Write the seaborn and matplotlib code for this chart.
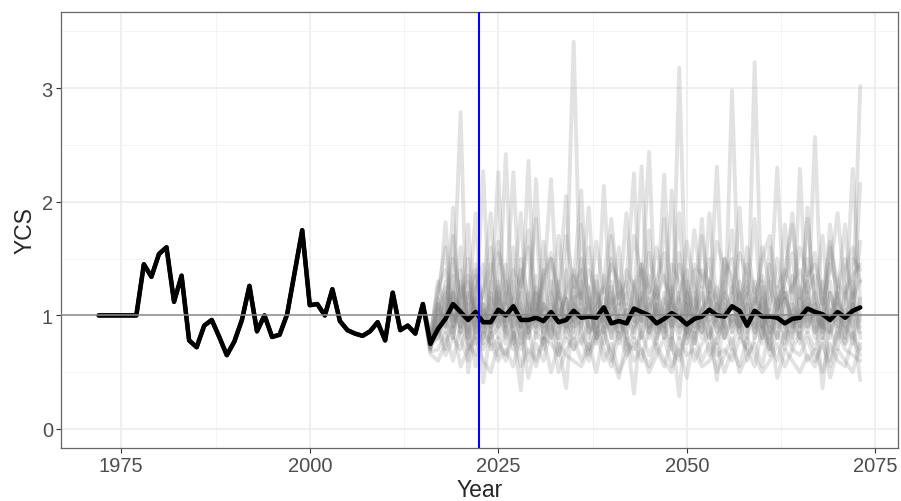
import numpy as np
import pandas as pd
import matplotlib
matplotlib.use("Agg")
import matplotlib.pyplot as plt
import seaborn as sns

# historical year class strength, shared by every run (1972-2015)
hist_years = list(range(1972, 2016))
hist_ycs = [1.0, 1.0, 1.0, 1.0, 1.0, 1.0, 1.45, 1.34, 1.54, 1.60,
            1.12, 1.35, 0.78, 0.72, 0.91, 0.96, 0.81, 0.65, 0.77, 0.96,
            1.26, 0.86, 1.0, 0.81, 0.83, 1.01, 1.38, 1.75, 1.09, 1.10,
            1.0, 1.23, 0.95, 0.87, 0.84, 0.82, 0.86, 0.94, 0.78, 1.2,
            0.87, 0.91, 0.84, 1.10]

# projection years
proj_years = list(range(2016, 2074))

median_proj = [0.75, 0.88, 0.97, 1.10, 1.03, 0.96, 1.03, 0.94, 0.94, 1.05,
               1.00, 1.08, 0.96, 0.96, 0.98, 0.95, 1.03, 0.94, 0.96, 1.04,
               0.98, 0.99, 0.98, 1.07, 0.93, 0.95, 0.93, 1.06, 1.03, 1.00,
               0.93, 0.97, 1.02, 0.98, 0.92, 0.97, 0.99, 1.05, 1.00, 0.99,
               1.08, 1.04, 0.91, 1.04, 0.99, 0.99, 0.98, 0.93, 0.97, 0.98,
               1.06, 1.03, 1.01, 0.96, 1.03, 0.98, 1.04, 1.07]

sim_01 = [0.74, 0.95, 1.2, 1.05, 2.79, 0.5, 0.9, 1.1, 0.85, 1.3,
          0.9, 1.15, 0.75, 1.0, 1.35, 0.8, 1.1, 0.95, 1.2, 3.41,
          0.85, 0.7, 1.1, 1.25, 0.9, 1.0, 0.8, 1.3, 0.95, 1.1,
          0.75, 1.2, 0.9, 1.05, 0.85, 1.4, 0.95, 0.8, 1.1, 1.0,
          1.2, 0.85, 0.7, 3.23, 0.9, 1.05, 0.8, 1.15, 1.0, 0.9,
          1.3, 0.85, 1.0, 0.95, 1.2, 0.8, 1.1, 0.9]
sim_02 = [0.78, 0.85, 1.3, 0.95, 1.1, 0.8, 1.25, 0.41, 0.9, 1.0,
          2.42, 0.8, 1.05, 0.9, 1.2, 0.7, 0.95, 1.3, 0.85, 1.1,
          1.0, 1.25, 0.8, 0.9, 1.15, 0.75, 1.05, 0.95, 1.4, 0.85,
          1.1, 0.9, 0.7, 3.18, 0.8, 1.0, 1.2, 0.9, 0.75, 1.05,
          0.95, 1.3, 0.85, 1.0, 1.1, 0.7, 1.25, 0.9, 0.8, 1.15,
          0.95, 2.57, 0.8, 1.05, 0.9, 1.2, 0.75, 1.0]
sim_03 = [0.7, 1.0, 0.9, 1.35, 0.85, 1.1, 0.95, 2.27, 0.8, 0.9,
          1.1, 0.85, 0.34, 1.2, 0.95, 1.05, 0.8, 1.15, 0.9, 1.25,
          0.75, 0.95, 1.3, 0.85, 1.0, 1.1, 0.7, 0.9, 1.2, 2.44,
          0.8, 1.05, 0.9, 1.15, 0.75, 1.0, 0.85, 1.3, 0.95, 0.8,
          2.98, 0.9, 1.1, 0.8, 1.2, 0.95, 1.0, 0.75, 1.35, 0.9,
          1.05, 0.8, 1.15, 0.9, 0.7, 1.25, 1.0, 0.85]
sim_04 = [0.76, 0.9, 1.1, 0.8, 1.4, 0.95, 1.05, 0.75, 1.2, 1.0,
          0.85, 1.3, 0.9, 2.36, 0.8, 1.1, 1.0, 0.75, 0.36, 1.15,
          1.2, 0.9, 0.85, 1.05, 1.3, 0.8, 0.95, 1.1, 2.31, 0.9,
          0.95, 0.8, 1.25, 0.9, 1.1, 0.75, 1.05, 1.2, 0.85, 1.0,
          1.1, 0.95, 0.8, 1.3, 0.9, 0.7, 1.05, 1.15, 0.85, 1.25,
          0.9, 1.1, 0.8, 1.2, 0.95, 0.75, 1.05, 3.02]
sim_05 = [0.72, 1.05, 0.85, 1.15, 0.9, 1.3, 0.8, 1.0, 1.1, 2.26,
          0.75, 0.95, 1.2, 0.85, 1.0, 1.4, 0.9, 0.8, 1.15, 0.95,
          1.05, 0.8, 1.1, 0.9, 1.25, 0.95, 0.85, 0.31, 1.0, 1.2,
          0.9, 1.15, 1.0, 0.8, 1.3, 0.95, 0.85, 1.1, 2.31, 0.8,
          1.0, 0.85, 1.2, 0.95, 0.75, 1.1, 2.3, 0.9, 1.05, 0.8,
          1.15, 0.95, 1.3, 0.85, 1.0, 0.9, 1.2, 0.8]
sim_06 = [0.8, 0.9, 1.0, 1.2, 1.05, 0.85, 1.4, 0.9, 1.15, 0.8,
          1.0, 1.1, 0.9, 0.8, 2.2, 0.95, 1.2, 0.85, 1.05, 0.9,
          1.3, 0.85, 1.0, 0.75, 1.1, 1.2, 0.9, 1.05, 0.8, 1.15,
          1.0, 2.24, 0.85, 0.29, 1.1, 0.9, 1.25, 0.8, 1.0, 1.15,
          0.85, 1.2, 0.95, 1.05, 0.8, 1.3, 0.9, 1.0, 0.75, 2.29,
          0.9, 1.05, 0.85, 1.2, 1.0, 0.8, 1.1, 0.95]
sim_07 = [0.73, 1.15, 0.95, 0.8, 1.25, 1.0, 0.9, 1.1, 0.75, 1.2,
          0.9, 1.05, 0.8, 1.1, 0.95, 1.25, 2.2, 0.9, 1.0, 0.8,
          1.1, 0.9, 1.2, 1.0, 0.85, 0.95, 1.3, 2.25, 0.8, 1.05,
          1.25, 0.9, 1.1, 0.85, 1.0, 1.2, 0.8, 0.95, 0.43, 1.1,
          0.9, 1.05, 1.25, 0.85, 1.0, 0.9, 1.15, 0.8, 1.1, 0.95,
          1.2, 0.9, 1.0, 0.8, 1.15, 0.95, 2.29, 1.1]
sim_08 = [0.77, 0.8, 1.15, 1.0, 0.9, 1.2, 1.05, 0.85, 1.3, 0.95,
          1.15, 2.26, 0.9, 1.0, 0.85, 1.1, 0.95, 1.2, 0.8, 1.05,
          0.9, 1.15, 0.8, 2.14, 0.95, 0.85, 1.1, 1.0, 1.2, 0.8,
          1.05, 0.9, 2.1, 1.0, 0.85, 1.15, 0.9, 1.05, 1.25, 0.8,
          1.0, 0.9, 1.1, 0.85, 1.25, 0.95, 0.8, 1.2, 0.9, 1.05,
          0.85, 1.1, 0.36, 1.0, 1.25, 0.9, 0.8, 1.15]
sim_09 = [0.75, 1.0, 1.82, 0.9, 1.05, 0.8, 1.15, 0.95, 1.0, 1.25,
          0.8, 1.0, 1.1, 0.9, 1.2, 0.85, 1.0, 1.05, 0.9, 1.3,
          2.1, 0.85, 0.95, 1.15, 0.8, 1.05, 1.2, 0.9, 1.0, 0.85,
          1.1, 0.8, 1.0, 1.2, 0.9, 0.85, 1.05, 1.15, 0.95, 1.3,
          0.85, 1.0, 0.9, 1.15, 1.05, 0.8, 0.95, 1.25, 0.9, 1.0,
          1.1, 0.85, 0.95, 1.3, 0.8, 1.05, 0.9, 2.16]
sim_10 = [0.71, 1.1, 0.9, 1.95, 0.85, 1.0, 1.9, 0.8, 1.05, 0.9,
          1.2, 0.9, 1.0, 0.85, 1.1, 0.95, 0.8, 1.25, 2.05, 0.9,
          0.95, 1.1, 0.85, 1.0, 1.2, 0.9, 1.05, 0.8, 1.15, 0.95,
          0.85, 1.0, 1.15, 0.9, 1.2, 0.8, 1.05, 0.95, 1.1, 0.9,
          1.25, 0.8, 1.0, 0.9, 1.15, 0.85, 1.05, 1.2, 0.95, 0.8,
          1.0, 1.2, 0.9, 0.85, 1.1, 1.0, 0.95, 0.43]
sim_11 = [0.79, 1.25, 1.4, 1.1, 1.6, 0.7, 1.2, 1.45, 0.9, 1.55,
          1.3, 0.75, 1.5, 1.1, 0.9, 1.65, 1.2, 0.8, 1.4, 1.0,
          1.5, 1.2, 0.75, 1.35, 1.0, 1.6, 0.85, 1.25, 1.45, 0.9,
          1.3, 1.55, 0.8, 1.2, 1.4, 0.9, 1.7, 1.1, 0.85, 1.5,
          1.35, 0.9, 1.6, 1.2, 0.8, 1.45, 1.1, 1.3, 1.55, 0.85,
          1.5, 1.2, 0.9, 1.65, 1.1, 1.4, 1.6, 1.3]
sim_12 = [0.68, 0.7, 0.85, 0.6, 0.9, 0.75, 0.65, 0.95, 0.7, 0.8,
          0.6, 0.85, 0.7, 0.9, 0.55, 0.8, 0.75, 0.65, 0.95, 0.7,
          0.8, 0.6, 0.9, 0.7, 0.55, 0.85, 0.65, 0.75, 0.6, 0.9,
          0.7, 0.55, 0.8, 0.65, 0.9, 0.6, 0.75, 0.85, 0.65, 0.7,
          0.6, 0.8, 0.7, 0.55, 0.9, 0.75, 0.6, 0.85, 0.7, 0.65,
          0.8, 0.6, 0.75, 0.55, 0.85, 0.7, 0.65, 0.6]
sim_13 = [0.8, 1.3, 1.05, 1.5, 1.2, 0.95, 1.35, 1.15, 1.6, 1.1,
          1.45, 1.0, 1.25, 1.75, 1.05, 1.3, 1.5, 0.95, 1.2, 1.4,
          1.15, 1.6, 1.0, 1.3, 1.85, 1.1, 1.4, 1.25, 0.95, 1.55,
          1.2, 1.0, 1.45, 1.3, 1.1, 1.75, 1.25, 1.5, 1.05, 1.35,
          1.5, 1.15, 1.3, 1.0, 1.6, 1.25, 1.05, 1.4, 1.8, 1.15,
          1.3, 1.55, 1.1, 1.4, 1.9, 1.2, 1.35, 1.45]
sim_14 = [0.66, 0.6, 0.75, 0.9, 0.55, 0.7, 0.8, 0.6, 0.5, 0.75,
          0.65, 0.85, 0.55, 0.7, 0.6, 0.8, 0.5, 0.75, 0.65, 0.6,
          0.55, 0.7, 0.85, 0.6, 0.75, 0.5, 0.65, 0.8, 0.7, 0.55,
          0.75, 0.6, 0.5, 0.8, 0.65, 0.7, 0.55, 0.6, 0.75, 0.5,
          0.7, 0.55, 0.8, 0.65, 0.5, 0.6, 0.75, 0.55, 0.7, 0.85,
          0.6, 0.7, 0.5, 0.75, 0.6, 0.55, 0.8, 0.65]
sim_15 = [0.82, 1.1, 0.95, 1.7, 1.0, 1.5, 0.85, 1.25, 1.9, 0.9,
          1.0, 1.6, 0.9, 1.2, 1.85, 0.8, 1.05, 1.7, 1.1, 0.95,
          1.8, 1.0, 1.35, 0.85, 1.7, 1.1, 1.9, 0.95, 1.15, 1.75,
          0.9, 1.85, 1.1, 1.0, 1.65, 1.25, 0.95, 1.9, 1.05, 1.2,
          1.75, 1.0, 1.2, 1.85, 0.9, 1.6, 1.05, 1.3, 1.9, 1.0,
          1.85, 1.1, 1.7, 0.95, 1.2, 1.8, 1.0, 1.65]
sim_16 = [0.7, 0.95, 0.7, 1.05, 0.8, 0.6, 1.0, 0.7, 0.85, 0.65,
          0.9, 0.7, 0.95, 0.6, 0.85, 0.75, 1.0, 0.65, 0.8, 0.7,
          0.95, 0.65, 0.8, 0.9, 0.6, 1.0, 0.75, 0.7, 0.85, 0.65,
          0.8, 0.95, 0.7, 0.6, 0.9, 0.75, 1.0, 0.65, 0.8, 0.95,
          0.7, 1.0, 0.6, 0.8, 0.95, 0.65, 0.85, 0.7, 1.0, 0.75,
          0.85, 0.7, 0.95, 0.6, 0.9, 0.75, 0.85, 0.7]
sim_17 = [0.85, 1.2, 1.6, 0.85, 1.3, 1.1, 1.45, 1.0, 1.35, 1.65,
          1.1, 1.4, 1.25, 1.6, 0.9, 1.35, 1.55, 1.15, 1.7, 1.25,
          1.4, 1.05, 1.65, 1.2, 1.45, 1.3, 1.1, 1.7, 1.35, 1.2,
          1.6, 1.3, 1.15, 1.55, 1.0, 1.45, 1.35, 1.2, 1.65, 1.4,
          1.2, 1.55, 1.35, 1.1, 1.5, 1.7, 1.25, 1.4, 1.2, 1.6,
          1.35, 1.45, 1.2, 1.6, 1.3, 1.15, 1.5, 1.4]
sim_18 = [0.74, 0.8, 1.0, 1.2, 0.95, 1.8, 0.75, 1.05, 0.9, 1.15,
          0.95, 1.2, 1.9, 0.8, 1.05, 0.9, 1.3, 1.0, 1.15, 0.85,
          1.2, 1.95, 0.9, 1.05, 0.8, 1.3, 1.0, 0.85, 1.1, 1.35,
          1.0, 0.85, 1.2, 1.9, 0.9, 1.05, 1.85, 1.0, 0.9, 1.2,
          1.05, 1.95, 0.9, 1.1, 1.3, 0.85, 1.0, 1.8, 1.1, 0.9,
          1.95, 1.0, 0.9, 1.8, 1.05, 0.85, 1.3, 1.0]
sim_19 = [0.72, 0.9, 0.65, 0.8, 0.7, 0.95, 0.55, 0.85, 0.75, 0.6,
          0.7, 0.55, 0.85, 0.45, 0.75, 0.6, 0.9, 0.5, 0.7, 0.8,
          0.6, 0.75, 0.5, 0.85, 0.65, 0.45, 0.8, 0.6, 0.7, 0.5,
          0.65, 0.8, 0.55, 0.7, 0.45, 0.85, 0.6, 0.75, 0.5, 0.65,
          0.8, 0.5, 0.65, 0.75, 0.55, 0.9, 0.45, 0.7, 0.6, 0.5,
          0.65, 0.55, 0.8, 0.45, 0.7, 0.6, 0.5, 0.75]
sim_20 = [0.78, 1.05, 1.25, 0.9, 1.15, 1.35, 1.0, 1.2, 1.45, 1.05,
          1.3, 1.1, 1.4, 0.95, 1.25, 1.05, 1.5, 1.2, 1.0, 1.35,
          1.1, 1.4, 1.2, 0.95, 1.5, 1.15, 1.3, 1.0, 1.45, 1.25,
          1.15, 1.35, 1.05, 1.45, 1.2, 1.0, 1.4, 1.3, 1.1, 1.5,
          1.3, 1.1, 1.45, 1.2, 1.35, 1.05, 1.5, 1.15, 1.25, 1.4,
          1.2, 1.35, 1.1, 1.45, 1.25, 1.5, 1.15, 1.3]

sims = [sim_01, sim_02, sim_03, sim_04, sim_05, sim_06, sim_07, sim_08, sim_09, sim_10,
        sim_11, sim_12, sim_13, sim_14, sim_15, sim_16, sim_17, sim_18, sim_19, sim_20]

current_year = 2022.5

# long format data for seaborn
all_years = hist_years + proj_years
frames = []
for i, s in enumerate(sims):
    assert len(s) == len(proj_years), (i, len(s))
    frames.append(pd.DataFrame({"Year": all_years, "YCS": hist_ycs + s, "sim": i}))
sim_df = pd.concat(frames, ignore_index=True)
med_df = pd.DataFrame({"Year": all_years, "YCS": hist_ycs + median_proj})

sns.set_style("white")
plt.rcParams["font.family"] = ["Liberation Sans", "DejaVu Sans"]

fig = plt.figure(figsize=(9.01, 5.02), dpi=100)
ax = fig.add_axes([0.0672, 0.105, 0.9298, 0.8697])

sns.lineplot(data=sim_df, x="Year", y="YCS", units="sim", estimator=None,
             color="#7f7f7f", alpha=0.22, lw=2.8, legend=False, ax=ax)
sns.lineplot(data=med_df, x="Year", y="YCS", color="black", lw=3.3, ax=ax)
ax.axhline(1, color="#8c8c8c", lw=1.1, zorder=5)
ax.axvline(current_year, color="#0000ff", lw=1.5, zorder=6)

ax.set_xlim(1966.95, 2078.05)
ax.set_ylim(-0.17, 3.674)
ax.set_xticks([1975, 2000, 2025, 2050, 2075])
ax.set_xticks([1987.5, 2012.5, 2037.5, 2062.5], minor=True)
ax.set_yticks([0, 1, 2, 3])
ax.set_yticks([0.5, 1.5, 2.5, 3.5], minor=True)

ax.grid(which="major", color="#ebebeb", lw=1.1)
ax.grid(which="minor", color="#f2f2f2", lw=0.6)
ax.set_axisbelow(True)
for sp in ax.spines.values():
    sp.set_color("#666666")
    sp.set_linewidth(0.9)
ax.tick_params(which="major", bottom=True, left=True, direction="out",
               length=3.5, width=0.8, color="#333333",
               labelcolor="#4d4d4d", labelsize=14.5, pad=2)
ax.tick_params(which="minor", bottom=False, left=False, length=0)
ax.set_xlabel("Year", fontsize=16.5, labelpad=2)
ax.set_ylabel("YCS", fontsize=16.5, labelpad=4)

fig.savefig("out.png", dpi=100)
